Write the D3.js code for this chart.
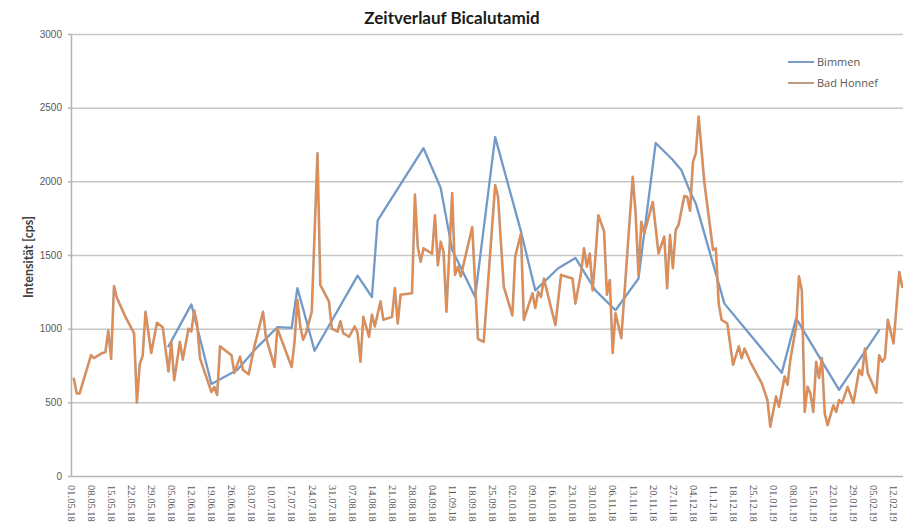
<!DOCTYPE html>
<meta charset="utf-8">
<style>
body { margin: 0; background: #fff; }
svg { display: block; font-family: Lato, "Liberation Sans", sans-serif; }
.title { font-size: 17px; font-weight: bold; fill: #1a1a1a; }
.grid line { stroke: #c6c6c6; stroke-width: 1.5px; }
.grid path { display: none; }
.axis path, .axis line { stroke: #b3b3b3; stroke-width: 1.5px; }
.y.axis text { font: 10px "Liberation Sans", sans-serif; fill: #595959; }
.x.axis text { font: 10.5px "Liberation Serif", serif; fill: #595959; }
.ylabel { font-size: 12.5px; font-weight: bold; fill: #404040; }
.legend text { font: 11px "Open Sans", sans-serif; fill: #595959; }
.line { fill: none; stroke-linejoin: round; stroke-linecap: round; }
</style>
<body>
<div id="chart"></div>
<script src="https://d3js.org/d3.v7.min.js"></script>
<script>
// Bimmen (weekly-ish samples)
var bimmenDates = ["04.06.18","12.06.18","19.06.18","28.06.18","05.07.18","12.07.18","17.07.18","19.07.18",
  "25.07.18","09.08.18","14.08.18","16.08.18","01.09.18","07.09.18","11.09.18","19.09.18","26.09.18",
  "05.10.18","10.10.18","18.10.18","24.10.18","31.10.18","07.11.18","15.11.18","21.11.18","27.11.18",
  "30.11.18","03.12.18","05.12.18","15.12.18","04.01.19","09.01.19","24.01.19","07.02.19"];
var bimmenValues = [880,1165,625,720,875,1010,1005,1275,
  850,1360,1215,1735,2225,1955,1535,1215,2300,
  1660,1260,1410,1480,1260,1125,1340,2260,2145,
  2075,1930,1850,1170,700,1070,585,990];

// Bad Honnef (near daily samples)
var honnefDates = ["02.05.18","03.05.18","04.05.18","08.05.18","09.05.18","12.05.18","13.05.18","14.05.18",
  "15.05.18","16.05.18","17.05.18","20.05.18","23.05.18","24.05.18","25.05.18","26.05.18","27.05.18",
  "29.05.18","31.05.18","02.06.18","04.06.18","05.06.18","06.06.18","08.06.18","09.06.18","11.06.18",
  "12.06.18","13.06.18","14.06.18","15.06.18","17.06.18","19.06.18","20.06.18","21.06.18","22.06.18",
  "26.06.18","27.06.18","29.06.18","30.06.18","02.07.18","04.07.18","07.07.18","08.07.18","11.07.18",
  "12.07.18","17.07.18","18.07.18","19.07.18","20.07.18","21.07.18","22.07.18","24.07.18","26.07.18",
  "27.07.18","30.07.18","31.07.18","02.08.18","03.08.18","04.08.18","06.08.18","08.08.18","09.08.18",
  "10.08.18","11.08.18","13.08.18","14.08.18","15.08.18","17.08.18","18.08.18","21.08.18","22.08.18",
  "23.08.18","24.08.18","28.08.18","29.08.18","30.08.18","31.08.18","01.09.18","04.09.18","05.09.18",
  "06.09.18","07.09.18","08.09.18","09.09.18","11.09.18","12.09.18","13.09.18","14.09.18","18.09.18",
  "20.09.18","22.09.18","26.09.18","27.09.18","29.09.18","02.10.18","03.10.18","05.10.18","06.10.18",
  "09.10.18","10.10.18","11.10.18","12.10.18","13.10.18","17.10.18","19.10.18","23.10.18","24.10.18",
  "26.10.18","27.10.18","28.10.18","29.10.18","30.10.18","31.10.18","01.11.18","03.11.18","04.11.18",
  "05.11.18","06.11.18","07.11.18","09.11.18","13.11.18","14.11.18","15.11.18","16.11.18","17.11.18",
  "20.11.18","22.11.18","24.11.18","25.11.18","26.11.18","27.11.18","28.11.18","29.11.18","01.12.18",
  "02.12.18","03.12.18","04.12.18","05.12.18","06.12.18","08.12.18","10.12.18","11.12.18","12.12.18",
  "13.12.18","14.12.18","16.12.18","18.12.18","20.12.18","21.12.18","22.12.18","24.12.18","28.12.18",
  "30.12.18","31.12.18","02.01.19","03.01.19","05.01.19","06.01.19","07.01.19","09.01.19","10.01.19",
  "11.01.19","12.01.19","13.01.19","14.01.19","15.01.19","16.01.19","17.01.19","18.01.19","19.01.19",
  "20.01.19","22.01.19","23.01.19","24.01.19","25.01.19","27.01.19","29.01.19","31.01.19","01.02.19",
  "02.02.19","03.02.19","06.02.19","07.02.19","08.02.19","09.02.19","10.02.19","12.02.19","14.02.19",
  "15.02.19"];
var honnefValues = [660,560,560,820,800,835,840,985,
  795,1290,1210,1080,970,500,760,815,1115,
  835,1040,1010,710,910,650,910,790,1000,
  980,1125,1035,800,685,570,605,550,880,
  820,700,810,720,690,880,1115,945,740,
  1000,740,910,1195,1015,925,970,1115,2190,
  1295,1185,1000,980,1050,970,945,1015,970,
  775,1080,945,1095,1015,1185,1060,1080,1275,
  1035,1230,1240,1910,1555,1455,1545,1510,1770,
  1430,1590,1520,1115,1920,1365,1420,1355,1690,
  930,910,1975,1895,1285,1090,1490,1645,1060,
  1240,1140,1250,1215,1340,1025,1365,1340,1170,
  1385,1545,1420,1510,1260,1490,1770,1660,1230,
  1330,835,1105,935,2030,1785,1365,1725,1645,
  1860,1510,1625,1275,1635,1410,1670,1705,1900,
  1895,1800,2130,2190,2440,1990,1690,1535,1545,
  1170,1060,1035,755,880,800,865,775,630,
  515,335,540,470,675,620,790,1015,1355,
  1260,435,605,560,435,775,665,800,425,
  345,480,435,515,495,605,495,720,685,
  865,700,565,820,775,800,1060,900,1385,
  1285];

var yTicks = [0, 500, 1000, 1500, 2000, 2500, 3000];
var firstTick = "01.05.18", lastTick = "12.02.19", domainEnd = "16.02.19";

var W = 903, H = 527;
var plot = {left: 71, right: 905, top: 34, bottom: 476};

var parse = d3.utcParse("%d.%m.%y"),
    fmt = d3.utcFormat("%d.%m.%y");

var bimmen = bimmenDates.map(function(d, i) { return {date: parse(d), value: bimmenValues[i]}; });
var honnef = honnefDates.map(function(d, i) { return {date: parse(d), value: honnefValues[i]}; });

var x = d3.scaleUtc()
    .domain([parse(firstTick), parse(domainEnd)])
    .range([plot.left, plot.right]);
var y = d3.scaleLinear()
    .domain([0, 3000])
    .range([plot.bottom, plot.top]);

var weeks = d3.utcDay.range(parse(firstTick), d3.utcDay.offset(parse(lastTick), 1), 7);

var svg = d3.select("#chart").append("svg")
    .attr("width", W)
    .attr("height", H);

svg.append("rect").attr("width", W).attr("height", H).attr("fill", "#fff");

// horizontal gridlines
svg.append("g")
    .attr("class", "grid")
    .attr("transform", "translate(" + plot.left + ",0)")
    .call(d3.axisLeft(y).tickValues(yTicks.slice(1)).tickSize(-(W - plot.left)).tickFormat(""));

// y axis
svg.append("g")
    .attr("class", "y axis")
    .attr("transform", "translate(" + plot.left + ",0)")
    .call(d3.axisLeft(y).tickValues(yTicks).tickSize(3).tickSizeOuter(0).tickPadding(6).tickFormat(d3.format("d")));

// x axis, labels turned to read downwards
var xAxis = svg.append("g")
    .attr("class", "x axis")
    .attr("transform", "translate(0," + plot.bottom + ")")
    .call(d3.axisBottom(x).tickValues(weeks).tickSize(0).tickSizeOuter(0).tickFormat(fmt));
xAxis.selectAll("text")
    .attr("y", 0)
    .attr("x", 9)
    .attr("dy", "0.35em")
    .attr("transform", "rotate(90)")
    .style("text-anchor", "start");

var line = d3.line()
    .x(function(d) { return x(d.date); })
    .y(function(d) { return y(d.value); });

svg.append("path")
    .datum(bimmen)
    .attr("class", "line")
    .attr("stroke", "#7399c6")
    .attr("stroke-width", 2.3)
    .attr("d", line);

svg.append("path")
    .datum(honnef)
    .attr("class", "line")
    .attr("stroke", "#c0957a")
    .attr("stroke-width", 2.6)
    .attr("d", line);
svg.append("path")
    .datum(honnef)
    .attr("class", "line")
    .attr("stroke", "#ee8a45")
    .attr("stroke-width", 1.1)
    .attr("d", line);

svg.append("text")
    .attr("class", "title")
    .attr("x", 452)
    .attr("y", 24)
    .attr("text-anchor", "middle")
    .text("Zeitverlauf Bicalutamid");

svg.append("text")
    .attr("class", "ylabel")
    .attr("transform", "translate(29," + ((plot.top + plot.bottom) / 2 + 2) + ")rotate(-90)")
    .attr("text-anchor", "middle")
    .attr("dy", "0.35em")
    .text("Intensität [cps]");

var legend = svg.append("g").attr("class", "legend");
var items = [{name: "Bimmen", color: "#7a9cc6"}, {name: "Bad Honnef", color: "#bf9a84"}];
items.forEach(function(it, i) {
  var ly = 62 + i * 21;
  legend.append("line")
      .attr("x1", 788).attr("x2", 814)
      .attr("y1", ly).attr("y2", ly)
      .attr("stroke", it.color)
      .attr("stroke-width", 2);
  legend.append("text")
      .attr("x", 817)
      .attr("y", ly)
      .attr("dy", "0.35em")
      .text(it.name);
});
</script>
